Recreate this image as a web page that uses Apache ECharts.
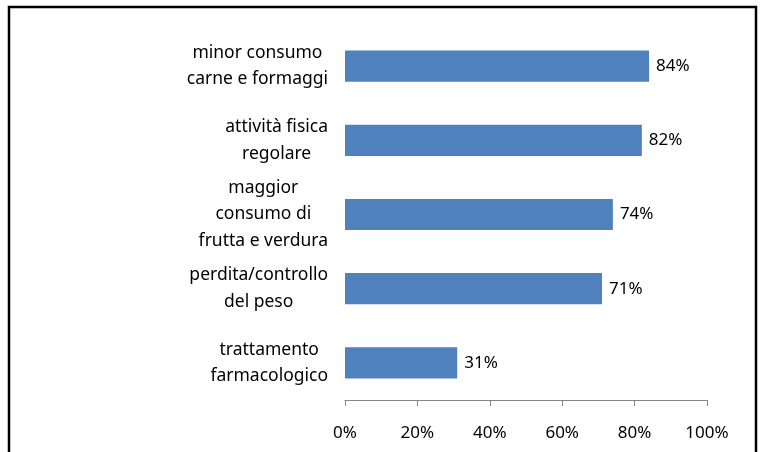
<!DOCTYPE html>
<html>
<head>
<meta charset="utf-8">
<script src="https://cdn.jsdelivr.net/npm/echarts@6/dist/echarts.min.js"></script>
<style>
  html, body { margin: 0; padding: 0; background: #fff; }
  #chart { width: 763px; height: 452px; }
</style>
</head>
<body>
<div id="chart"></div>
<script>
// categorie (dall'alto in basso)
const categories = [
  'minor consumo\ncarne e formaggi',
  'attività fisica\nregolare',
  'maggior\nconsumo di\nfrutta e verdura',
  'perdita/controllo\ndel peso',
  'trattamento\nfarmacologico'
]
// percentuali
const values = [84, 82, 74, 71, 31]
const tickMax = 100
const tickStep = 20

const chart = echarts.init(document.getElementById('chart'))

const option = {
  animation: false,
  textStyle: { fontFamily: 'Noto Sans', color: '#000' },
  graphic: [
    {
      type: 'rect',
      shape: { x: 9, y: 7, width: 747, height: 452 },
      style: { fill: 'none', stroke: '#000', lineWidth: 2.5 },
      silent: true
    }
  ],
  grid: { left: 345, right: 56, top: 29, bottom: 52 },
  xAxis: {
    type: 'value',
    min: 0,
    max: tickMax,
    interval: tickStep,
    splitLine: { show: false },
    axisLine: { show: true, lineStyle: { color: '#868686', width: 1 } },
    axisTick: { show: true, length: 6, lineStyle: { color: '#868686' } },
    axisLabel: { margin: 25, fontSize: 17, color: '#000', formatter: '{value}%' }
  },
  yAxis: {
    type: 'category',
    inverse: true,
    data: categories,
    axisLine: { show: false },
    axisTick: { show: false },
    axisLabel: {
      margin: 17,
      align: 'right',
      // righe centrate dentro il blocco allineato a destra
      formatter: (v) => v.split('\n').map((s) => '{c|' + s + '}').join('\n'),
      rich: {
        c: { align: 'center', fontSize: 17.5, lineHeight: 26.5, color: '#000', fontFamily: 'Noto Sans' }
      }
    }
  },
  series: [
    {
      type: 'bar',
      data: values,
      barWidth: '42%',
      itemStyle: { color: '#4F81BD' },
      label: {
        show: true,
        position: 'right',
        distance: 7,
        fontSize: 17,
        color: '#000',
        formatter: '{c}%'
      }
    }
  ]
}

chart.setOption(option)
</script>
</body>
</html>
